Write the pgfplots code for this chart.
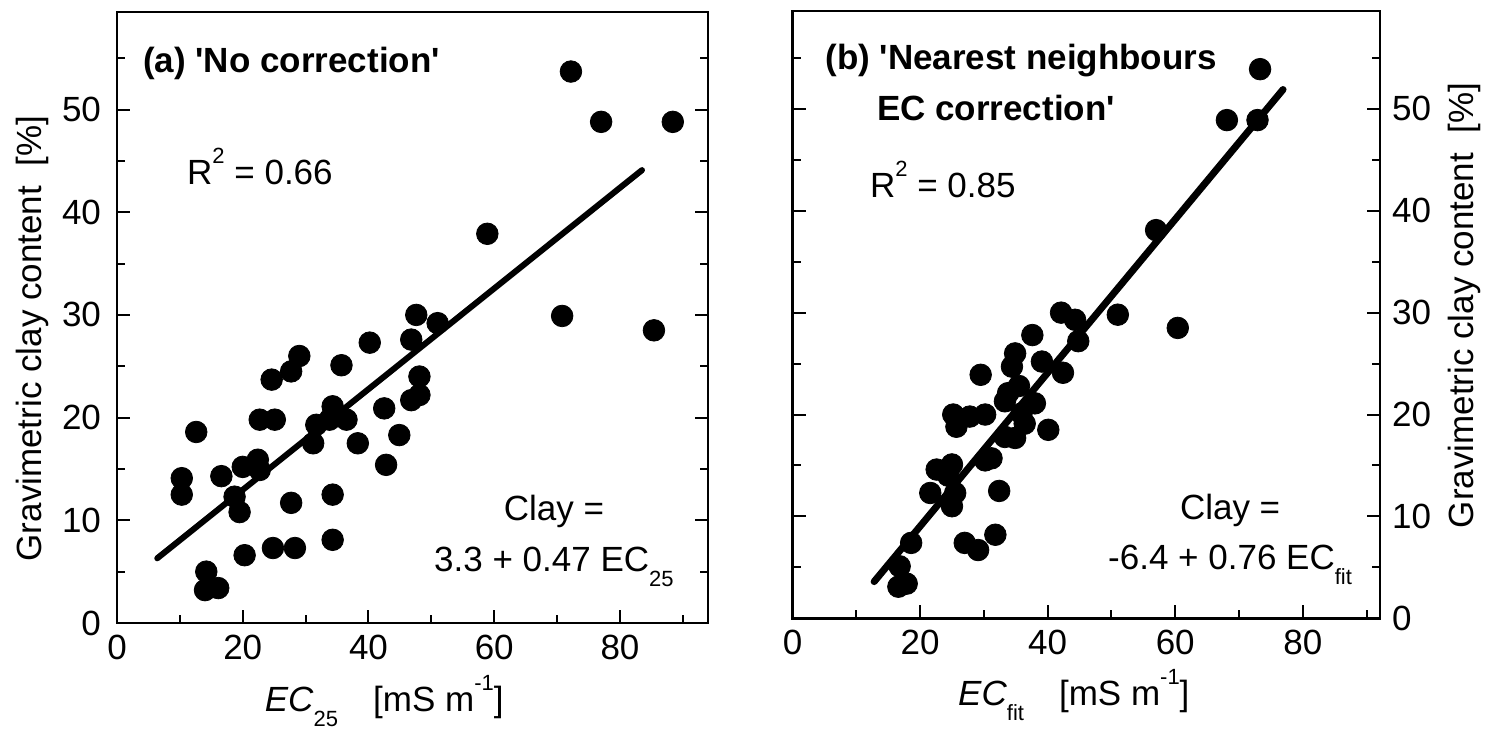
\documentclass[border=0pt]{standalone}
\usepackage{fontspec}
\setmainfont{Liberation Sans}
\usepackage{pgfplots}
\pgfplotsset{compat=1.18}
\newcommand{\sub}[1]{\raisebox{-0.42em}{\fontsize{11}{12}\selectfont #1}}
\newcommand{\supr}[1]{\raisebox{0.6em}{\fontsize{11}{12}\selectfont #1}}
\newcommand{\q}{\textquotesingle}

\pgfplotstableread{
x y
47.6 30.0
51.0 29.2
46.8 27.6
40.2 27.3
29.0 26.0
27.7 24.5
35.7 25.1
24.6 23.7
48.1 24.0
48.1 22.2
46.8 21.7
42.5 20.9
34.3 21.1
22.7 19.8
25.1 19.8
31.7 19.3
33.8 19.8
36.5 19.8
12.6 18.6
38.3 17.5
31.2 17.5
44.9 18.3
22.4 15.9
22.7 14.9
20.0 15.2
16.6 14.3
42.8 15.4
10.3 14.1
10.3 12.5
18.7 12.3
19.5 10.8
27.7 11.7
34.3 12.5
20.3 6.6
24.8 7.3
28.3 7.3
34.3 8.1
14.2 5.0
14.0 3.2
16.1 3.4
72.2 53.7
77.0 48.8
88.4 48.8
58.9 37.9
70.8 29.9
85.4 28.5
}\dataA

\pgfplotstableread{
x y
73.3 53.9
68.1 48.9
72.9 48.9
57.0 38.1
42.1 30.0
44.3 29.3
51.0 29.8
60.4 28.5
37.6 27.8
44.8 27.2
34.9 26.0
34.4 24.7
39.1 25.2
42.4 24.1
29.5 23.9
33.8 22.1
33.3 21.3
35.5 22.8
38.0 21.1
35.9 20.1
36.4 19.1
25.2 20.0
27.8 19.8
30.2 20.0
25.7 18.8
40.1 18.5
33.3 17.8
34.9 17.7
30.2 15.5
31.2 15.7
22.6 14.6
25.0 15.1
24.4 14.0
21.6 12.3
25.5 12.3
25.0 11.0
32.4 12.5
18.6 7.4
27.0 7.4
29.1 6.7
31.8 8.2
16.8 5.1
16.6 3.1
17.9 3.4
}\dataB

\begin{document}
\fontsize{17.5}{20}\selectfont
\begin{tikzpicture}
\useasboundingbox (0,0) rectangle (745pt,366pt);
\pgfplotsset{
  clayaxis/.style={
    scale only axis, anchor=south west, clip=false,
    xmin=0, ymin=0,
    xtick={0,20,...,80}, minor xtick={10,30,...,90},
    ytick={0,10,...,50}, minor ytick={5,15,...,55},
    xtick pos=left, ytick pos=both,
    tick align=inside,
    major tick length=6.5pt, minor tick length=4pt,
    every tick/.style={black, line width=1pt},
    tick label style={font=\fontsize{17.5}{20}\selectfont},
    /pgf/number format/assume math mode=true,
    axis line style={line width=1pt},
  },
  dots/.style={only marks, mark=*, mark size=5.4pt, mark options={fill=black, draw=black}},
}
% ---------- left panel ----------
\begin{axis}[clayaxis,
  at={(58.5pt,54.5pt)}, width=295.5pt, height=305.5pt,
  xmax=94, ymax=59.5,
  yticklabel pos=left,
  yticklabel style={xshift=-2pt},
]
\addplot[dots] table[x=x,y=y] {\dataA};
\addplot[black, line width=3pt, line cap=round] coordinates {(6.4,6.3) (83.5,44.1)};
\node[anchor=base west, inner sep=0, font=\bfseries] at (axis cs:4.1,53.6) {(a) \q No correction\q};
\node[anchor=base west, inner sep=0] at (axis cs:11.1,42.7) {R\supr{2} = 0.66};
\node[anchor=base, inner sep=0] at (axis cs:69.5,10.0) {Clay =};
\node[anchor=base, inner sep=0] at (axis cs:69.5,5.0) {3.3 + 0.47 EC\sub{25}};
\node[anchor=base, inner sep=0] at (axis cs:42.5,-8.6) {\textit{EC}\sub{25}\quad[mS m\supr{-1}]};
\node[rotate=90, inner sep=0] at (axis cs:-13.5,27.7) {Gravimetric clay content\ \ [\%]};
\end{axis}
% ---------- right panel ----------
\begin{axis}[clayaxis,
  at={(396.25pt,56.85pt)}, width=293.75pt, height=303.6pt,
  xmax=92.1, ymax=59.6,
  yticklabel pos=right,
  axis line style={line width=1.3pt},
]
\addplot[dots] table[x=x,y=y] {\dataB};
\addplot[black, line width=3.5pt, line cap=round] coordinates {(12.8,3.6) (76.9,51.9)};
\node[anchor=base west, inner sep=0, font=\bfseries] at (axis cs:5.1,53.9) {(b) \q Nearest neighbours};
\node[anchor=base west, inner sep=0, font=\bfseries] at (axis cs:13.2,48.9) {EC correction\q};
\node[anchor=base west, inner sep=0] at (axis cs:12.1,41.3) {R\supr{2} = 0.85};
\node[anchor=base, inner sep=0] at (axis cs:68.6,9.65) {Clay =};
\node[anchor=base, inner sep=0] at (axis cs:68.6,4.74) {-6.4 + 0.76 EC\sub{fit}};
\node[anchor=base, inner sep=0] at (axis cs:44.1,-8.6) {\textit{EC}\sub{fit}\quad[mS m\supr{-1}]};
\node[rotate=90, inner sep=0] at (axis cs:105.4,30.7) {Gravimetric clay content\ \ [\%]};
\end{axis}
\end{tikzpicture}
\end{document}
